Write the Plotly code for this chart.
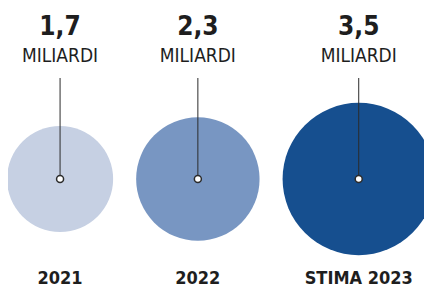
import plotly.graph_objects as go
import math

# Data
categories = ["2021", "2022", "STIMA 2023"]
values = [1.7, 2.3, 3.5]
value_labels = ["1,7", "2,3", "3,5"]
unit_label = "MILIARDI"
colors = ["#c6d0e3", "#7896c2", "#164f8f"]

# Layout parameters (pixel space of the 432x296 window; page body has 8px margin)
W, H = 432, 296
OFF = 8
k = 40.7          # px radius per sqrt(unit) (area proportional)
gap = 23
x0_left = 7

radii = [k * math.sqrt(v) for v in values]
xs = []
cur = x0_left
for r in radii:
    xs.append(cur + r)
    cur = cur + 2 * r + gap

cy = 179
line_top = 78

fig = go.Figure()

# circles
fig.add_trace(go.Scatter(
    x=xs, y=[cy] * len(values), mode="markers",
    marker=dict(size=[2 * r for r in radii], color=colors, opacity=1,
                line=dict(width=0)),
    hoverinfo="skip", showlegend=False, cliponaxis=False))

# leader lines
for x in xs:
    fig.add_trace(go.Scatter(x=[x, x], y=[line_top, cy], mode="lines",
                             line=dict(color="#2b2b2b", width=1),
                             hoverinfo="skip", showlegend=False))

# center dots
fig.add_trace(go.Scatter(
    x=xs, y=[cy] * len(values), mode="markers",
    marker=dict(size=7, color="white", line=dict(color="#2b2b2b", width=1.5)),
    hoverinfo="skip", showlegend=False))

narrow = "DejaVu Sans Condensed, Liberation Sans Narrow, sans-serif"
# value labels
fig.add_trace(go.Scatter(
    x=xs, y=[28] * len(values), mode="text", text=[f"<b>{t}</b>" for t in value_labels],
    textfont=dict(family=narrow, size=26, color="#1e1e1e"),
    hoverinfo="skip", showlegend=False, cliponaxis=False))
fig.add_trace(go.Scatter(
    x=xs, y=[57] * len(values), mode="text", text=[unit_label] * len(values),
    textfont=dict(family=narrow, size=19, color="#1e1e1e"),
    hoverinfo="skip", showlegend=False, cliponaxis=False))
# year labels
fig.add_trace(go.Scatter(
    x=xs, y=[279] * len(values), mode="text", text=[f"<b>{c}</b>" for c in categories],
    textfont=dict(family=narrow, size=18, color="#1e1e1e"),
    hoverinfo="skip", showlegend=False, cliponaxis=False))

fig.update_layout(
    width=W - 2 * OFF, height=H - 2 * OFF, margin=dict(l=0, r=0, t=0, b=0),
    paper_bgcolor="white", plot_bgcolor="white",
    xaxis=dict(range=[OFF, W - OFF], visible=False, fixedrange=True),
    yaxis=dict(range=[H - OFF, OFF], visible=False, fixedrange=True),
)

fig.write_html("out.html")
